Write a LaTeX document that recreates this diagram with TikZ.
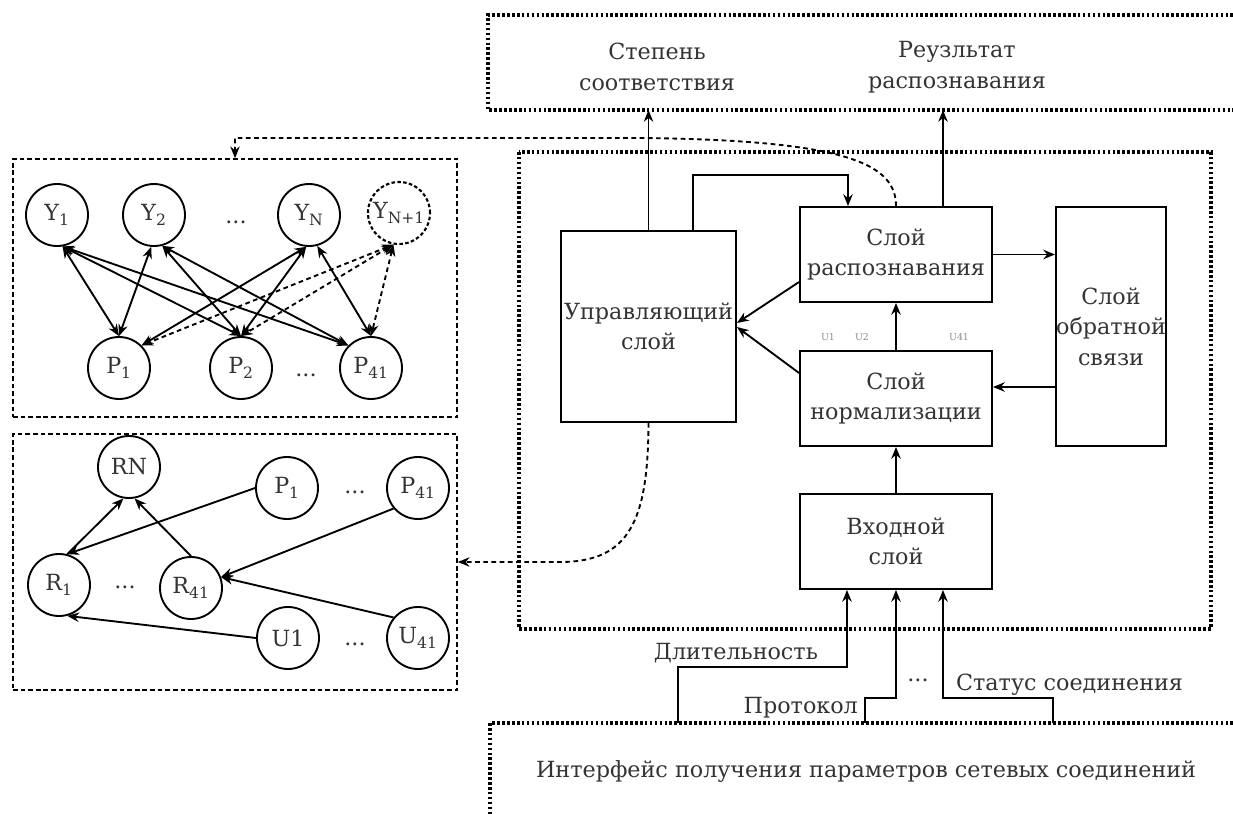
\documentclass[tikz,border=0pt]{standalone}
\usepackage{fontspec}
\setmainfont{DejaVu Serif}
\usetikzlibrary{positioning,arrows.meta}

\begin{document}
\begin{tikzpicture}[
    x=0.03cm, y=-0.03cm,
    font=\fontsize{19}{26}\selectfont,
    text=black!80,
    >={Stealth[length=10pt,width=8pt]},
    line width=1.6pt,
    layer/.style = {draw, rectangle, align=center, inner sep=0pt},
    main/.style = {draw, circle, minimum size=1.86cm, inner sep=0pt},
    ghost/.style = {main, dash pattern=on 3pt off 2pt, line width=1.8pt},
    group/.style = {draw, line width=1.3pt, dash pattern=on 4pt off 2.5pt},
    zone/.style = {line width=2.6pt, dash pattern=on 2.2pt off 2pt},
    link/.style = {dash pattern=on 4pt off 3pt},
    small/.style = {font=\fontsize{8}{9}\selectfont, text=black!45},
  ]
  \useasboundingbox (0,0) rectangle (1233,814);

  % Outer zones.
  \draw[zone] (1233,15) -- (488,15) -- (488,110) -- (1233,110);
  \draw[zone] (519,152) rectangle (1211,629);
  \draw[zone] (1233,723) -- (490,723) -- (490,814);
  \coordinate (outbox) at (488,110);
  \node (degree) at (657,67) [align=center] {Степень\\соответствия};
  \node (result) at (957,67) [align=center] {Реузльтат\\распознавания};
  \node (iface) at (866,772) {Интерфейс получения параметров сетевых соединений};

  % Layers.
  \node[layer, minimum width=5.25cm, minimum height=5.73cm] (ctrl) at (648.5,326.5) {Управляющий\\слой};
  \node[layer, minimum width=5.76cm, minimum height=2.85cm] (recog) at (896,254.5) {Слой\\распознавания};
  \node[layer, minimum width=5.76cm, minimum height=2.85cm] (norm) at (896,398.5) {Слой\\нормализации};
  \node[layer, minimum width=3.3cm, minimum height=7.17cm] (fb) at (1111,326.5) {Слой\\обратной\\связи};
  \node[layer, minimum width=5.76cm, minimum height=2.85cm] (input) at (896,541.5) {Входной\\слой};
  \node[small] (u1) at (828,337) {U1};
  \node[small] (u2) at (862,337) {U2};
  \node[small] (u41) at (959,337) {U41};

  \draw[->] (ctrl.north) -- (ctrl.north |- outbox);
  \draw[->] ([xshift=1.41cm]recog.north) -- ([xshift=1.41cm]recog.north |- outbox);
  \draw[->] ([xshift=1.34cm]ctrl.north) -- ++(0,-55) -| ([xshift=-1.44cm]recog.north);
  \draw[->] (recog.east) -- (fb.west |- recog.east);
  \draw[->] (fb.west |- 0,387) -- (norm.east |- 0,387);
  \draw[->] (norm) -- (recog);
  \draw[->] (input) -- (norm);
  \draw[->] (recog.west |- 0,282) -- (ctrl.east |- 0,323);
  \draw[->] (norm.west |- 0,373) -- (ctrl.east |- 0,327);

  % Inputs.
  \coordinate (src1) at (678,723);
  \coordinate (src2) at (865,723);
  \coordinate (src3) at (1053,723);
  \draw[->] (src1) -- ++(0,-56) -| ([xshift=-1.47cm]input.south);
  \draw[->] (src2) -- ++(0,-25) -| (input.south);
  \draw[->] (src3) -- ++(0,-25) -| ([xshift=1.41cm]input.south);
  \node[anchor=south east, inner sep=1pt] (dur) at (820,665) {Длительность};
  \node[anchor=east, inner sep=1pt] (proto) at (860,708) {Протокол};
  \node[anchor=west, inner sep=1pt] (state) at (954,685) {Статус соединения};
  \node (idots) at (918,680) {...};

  % Recognition network.
  \node[group, minimum width=13.32cm, minimum height=7.74cm] (net) at (235,288) {};
  \node[main] (y1) at (57,215) {Y\textsubscript{1}};
  \node[main] (y2) at (154,215) {Y\textsubscript{2}};
  \node (ydots) at (236,222) {...};
  \node[main] (yn) at (309,215) {Y\textsubscript{N}};
  \node[ghost] (yn1) at (399,213) {Y\textsubscript{N+1}};
  \node[main] (p1) at (119,368) {P\textsubscript{1}};
  \node[main] (p2) at (241,368) {P\textsubscript{2}};
  \node (pdots) at (306,375) {...};
  \node[main] (p41) at (371,368) {P\textsubscript{41}};

  \draw[<->] (y1.-80) -- (p1.north);
  \draw[<->] (y1.-80) -- (p2.north);
  \draw[<->] (y1.-80) -- (p41.135);
  \draw[<->] (y2.-95) -- (p1.north);
  \draw[<->] (y2.-75) -- (p2.north);
  \draw[<->] (y2.-75) -- (p41.135);
  \draw[<->] (yn.-95) -- (p1.45);
  \draw[<->] (yn.-95) -- (p2.north);
  \draw[<->] (yn.-75) -- (p41.north);
  \draw[<->, link] (yn1.-100) -- (p1.45);
  \draw[<->, link] (yn1.-100) -- (p2.north);
  \draw[<->, link] (yn1.-100) -- (p41.north);

  % Rule network.
  \node[group, minimum width=13.32cm, minimum height=7.68cm] (rules) at (235,562) {};
  \node[main] (rn) at (129,467) {RN};
  \node[main] (pb1) at (287,488) {P\textsubscript{1}};
  \node (pbdots) at (355,492) {...};
  \node[main] (pb41) at (418,488) {P\textsubscript{41}};
  \node[main] (r1) at (59,585) {R\textsubscript{1}};
  \node (rdots) at (125,587) {...};
  \node[main] (r41) at (191,588) {R\textsubscript{41}};
  \node[main] (ub1) at (288,638) {U1};
  \node (ubdots) at (355,644) {...};
  \node[main] (ub41) at (418,638) {U\textsubscript{41}};

  \draw[->] (r1.75) -- (rn.-100);
  \draw[->] (r41.north) -- (rn.-80);
  \draw[->] (pb1.west) -- (r1.75);
  \draw[->] (ub1.west) -- (r1.-75);
  \draw[->] (pb41.220) -- (r41.20);
  \draw[->] (ub41.140) -- (r41.20);

  % Feedback links.
  \draw[->, link] (recog.north) .. controls (896,165) and (850,140) .. (640,138) -- (235,138) -- (net.north);
  \draw[->, link] (ctrl.south) .. controls (648,520) and (630,562) .. (560,562) -- (rules.east);
\end{tikzpicture}
\end{document}
